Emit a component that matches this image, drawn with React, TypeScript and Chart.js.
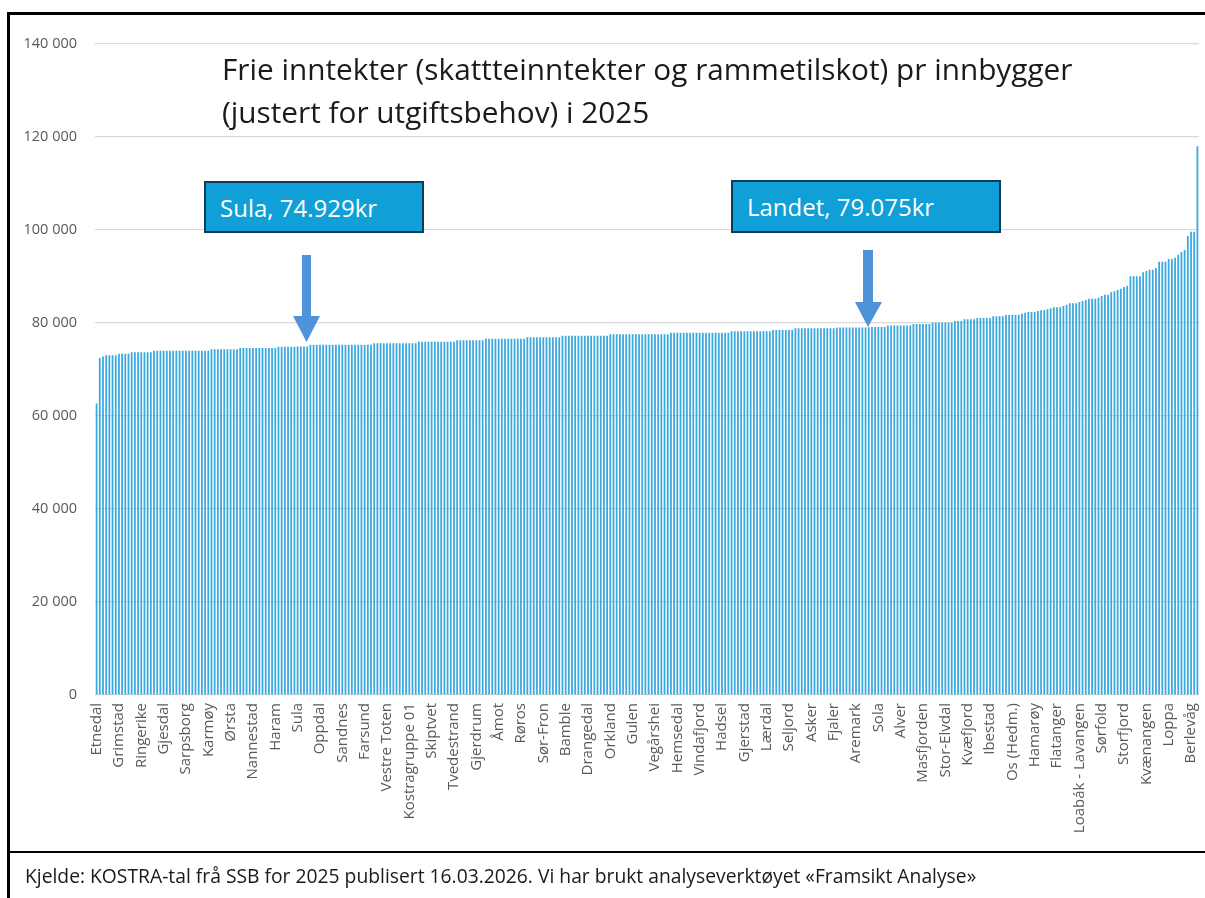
import React, { useEffect, useRef } from "react";
import { Chart, registerables } from "chart.js";
Chart.register(...registerables);

// Every 7th municipality is labelled on the x axis in the source chart
const labeledNames: string[] = [
  "Etnedal", "Grimstad", "Ringerike", "Gjesdal", "Sarpsborg", "Karmøy", "Ørsta", "Nannestad", "Haram", "Sula",
  "Oppdal", "Sandnes", "Farsund", "Vestre Toten", "Kostragruppe 01", "Skiptvet", "Tvedestrand", "Gjerdrum", "Åmot", "Røros",
  "Sør-Fron", "Bamble", "Drangedal", "Orkland", "Gulen", "Vegårshei", "Hemsedal", "Vindafjord", "Hadsel", "Gjerstad",
  "Lærdal", "Seljord", "Asker", "Fjaler", "Aremark", "Sola", "Alver", "Masfjorden", "Stor-Elvdal", "Kvæfjord",
  "Ibestad", "Os (Hedm.)", "Hamarøy", "Flatanger", "Loabák - Lavangen", "Sørfold", "Storfjord", "Kvænangen", "Loppa", "Berlevåg",
];
const labelEvery = 7;

// Frie inntekter pr innbygger (kr), sorted ascending
const values: number[] = [
  62700, 72500, 72800, 73050, 73050, 73050, 73050, 73400, 73400, 73400, 73400,
  73700, 73700, 73700, 73700, 73700, 73700, 73700,
  74050, 74050, 74050, 74050, 74050, 74050, 74050, 74050, 74050,
  74050, 74050, 74050, 74050, 74050, 74050, 74050, 74050, 74050,
  74350, 74350, 74350, 74350, 74350, 74350, 74350, 74350, 74350,
  74600, 74600, 74600, 74600, 74600, 74600, 74600, 74600, 74600, 74600, 74600, 74600,
  74880, 74880, 74880, 74880, 74880, 74880, 74929, 74950, 74950, 74950,
  75300, 75300, 75300, 75300, 75300, 75300, 75300, 75300, 75300, 75300,
  75300, 75300, 75300, 75300, 75300, 75300, 75300, 75300, 75300, 75300,
  75630, 75630, 75630, 75630, 75630, 75630, 75630, 75630, 75630, 75630, 75630, 75630, 75630, 75630,
  75990, 75990, 75990, 75990, 75990, 75990, 75990, 75990, 75990, 75990, 75990, 75990,
  76270, 76270, 76270, 76270, 76270, 76270, 76270, 76270, 76270,
  76630, 76630, 76630, 76630, 76630, 76630, 76630, 76630, 76630, 76630, 76630, 76630, 76630,
  76920, 76920, 76920, 76920, 76920, 76920, 76920, 76920, 76920, 76920, 76920,
  77280, 77280, 77280, 77280, 77280, 77280, 77280, 77280, 77280, 77280, 77280, 77280, 77280, 77280, 77280,
  77600, 77600, 77600, 77600, 77600, 77600, 77600, 77600, 77600, 77600,
  77600, 77600, 77600, 77600, 77600, 77600, 77600, 77600, 77600,
  77920, 77920, 77920, 77920, 77920, 77920, 77920, 77920, 77920, 77920,
  77920, 77920, 77920, 77920, 77920, 77920, 77920, 77920, 77920,
  78200, 78200, 78200, 78200, 78200, 78200, 78200, 78200, 78200, 78200, 78200, 78200, 78200,
  78490, 78490, 78490, 78490, 78490, 78490, 78490,
  78850, 78850, 78850, 78850, 78850, 78850, 78850, 78850, 78850, 78850, 78850, 78850, 78850,
  79050, 79050, 79050, 79050, 79050, 79050, 79050, 79050, 79050, 79050, 79075, 79140, 79140, 79140, 79140, 79140,
  79450, 79450, 79450, 79450, 79450, 79450, 79450, 79450, 79800, 79800, 79800, 79800, 79800, 79800,
  80070, 80070, 80070, 80070, 80070, 80070, 80070, 80430, 80430, 80430, 80790, 80790, 80790, 80790,
  81080, 81080, 81080, 81080, 81080, 81430, 81430, 81430, 81430, 81720, 81720, 81720, 81720, 81720,
  82000, 82220, 82370, 82370, 82370, 82580, 82720, 82720, 82940, 83150, 83370, 83370, 83370, 83660, 83940,
  84230, 84230, 84230, 84520, 84730, 84950, 85230, 85230, 85230, 85450, 85800, 86100, 86100, 86600, 86810,
  87100, 87380, 87740, 88030,
  90040, 90040, 90040, 90040, 90900, 91180, 91470, 91470, 91830, 93190, 93190, 93190, 93760, 93760,
  94050, 94700, 95270, 95700, 98700, 99600, 99600, 118000,
];

const categories: string[] = values.map((_, i) =>
  i % labelEvery === 0 ? labeledNames[i / labelEvery] ?? "" : ""
);

const yMax = 140000;
const yStep = 20000;

const titleLines = [
  "Frie inntekter (skattteinntekter og rammetilskot) pr innbygger",
  "(justert for utgiftsbehov) i 2025",
];
const sulaText = "Sula, 74.929kr";
const landetText = "Landet, 79.075kr";
const sourceText =
  "Kjelde: KOSTRA-tal frå SSB for 2025 publisert 16.03.2026. Vi har brukt analyseverktøyet «Framsikt Analyse»";

const FONT = "'Open Sans', 'Noto Sans', sans-serif";

function fmt(v: number): string {
  return String(v).replace(/\B(?=(\d{3})+(?!\d))/g, " ");
}

export default function App() {
  const ref = useRef<HTMLCanvasElement>(null);
  useEffect(() => {
    if (!ref.current) return;
    const chart = new Chart(ref.current, {
      type: "bar",
      data: {
        labels: categories,
        datasets: [
          {
            data: values,
            backgroundColor: "#3ba9de",
            barPercentage: 0.56,
            categoryPercentage: 1,
          },
        ],
      },
      options: {
        animation: false,
        responsive: false,
        maintainAspectRatio: false,
        layout: { padding: { left: 0, top: 44, right: 6, bottom: 53 } },
        plugins: { legend: { display: false }, tooltip: { enabled: false }, title: { display: false } },
        scales: {
          x: {
            grid: { display: false, drawTicks: false },
            border: { display: false },
            ticks: {
              autoSkip: false,
              minRotation: 90,
              maxRotation: 90,
              padding: 8,
              color: "#595959",
              font: { family: FONT, size: 15 },
              callback: (_v: any, i: number) => categories[i],
            },
            afterFit: (s: any) => {
              s.height = 150;
              s.paddingLeft = 0;
              s.paddingRight = 0;
            },
          },
          y: {
            min: 0,
            max: yMax,
            grid: { color: "#d9d9d9", drawTicks: false, lineWidth: 1.2 },
            border: { display: false },
            ticks: {
              stepSize: yStep,
              padding: 18,
              color: "#595959",
              font: { family: FONT, size: 14.5 },
              callback: (v: any) => fmt(Number(v)),
            },
            afterFit: (s: any) => {
              s.width = 95;
            },
          },
        },
      },
    });
    return () => chart.destroy();
  }, []);

  const box = (left: number, top: number, width: number, height: number, text: string) => (
    <div
      style={{
        position: "absolute",
        left,
        top,
        width,
        height,
        boxSizing: "border-box",
        background: "#109fd6",
        border: "2.5px solid #0c3c58",
        color: "#ffffff",
        fontFamily: FONT,
        fontSize: 24,
        display: "flex",
        alignItems: "center",
        paddingLeft: 14,
        whiteSpace: "nowrap",
      }}
    >
      {text}
    </div>
  );

  return (
    <div style={{ position: "absolute", left: 0, top: 0, width: 1205, height: 898, background: "#fff", overflow: "hidden" }}>
      <canvas ref={ref} width={1205} height={898} style={{ position: "absolute", left: 0, top: 0, width: 1205, height: 898 }} />
      <div style={{ position: "absolute", left: 7, top: 12, width: 1198, height: 3, background: "#000" }} />
      <div style={{ position: "absolute", left: 7, top: 12, width: 3, height: 886, background: "#000" }} />
      <div style={{ position: "absolute", left: 7, top: 851, width: 1198, height: 2, background: "#000" }} />
      <div
        style={{
          position: "absolute",
          left: 222,
          top: 47,
          fontFamily: FONT,
          fontSize: 29.75,
          lineHeight: "43px",
          color: "#1a1a1a",
          whiteSpace: "nowrap",
        }}
      >
        {titleLines.map((t) => (
          <div key={t}>{t}</div>
        ))}
      </div>
      {box(204, 181, 220, 52, sulaText)}
      {box(731, 180, 270, 53, landetText)}
      <svg style={{ position: "absolute", left: 0, top: 0 }} width={1205} height={898}>
        <polygon points="302,255 311,255 311,316 320,316 306.5,342 293,316 302,316" fill="#4e93dc" />
        <polygon points="863,250 873,250 873,302 882,302 868,327 855,302 863,302" fill="#4e93dc" />
      </svg>
      <div
        style={{
          position: "absolute",
          left: 25,
          top: 862,
          fontFamily: FONT,
          fontSize: 19.3,
          color: "#1a1a1a",
          whiteSpace: "nowrap",
        }}
      >
        {sourceText}
      </div>
    </div>
  );
}
